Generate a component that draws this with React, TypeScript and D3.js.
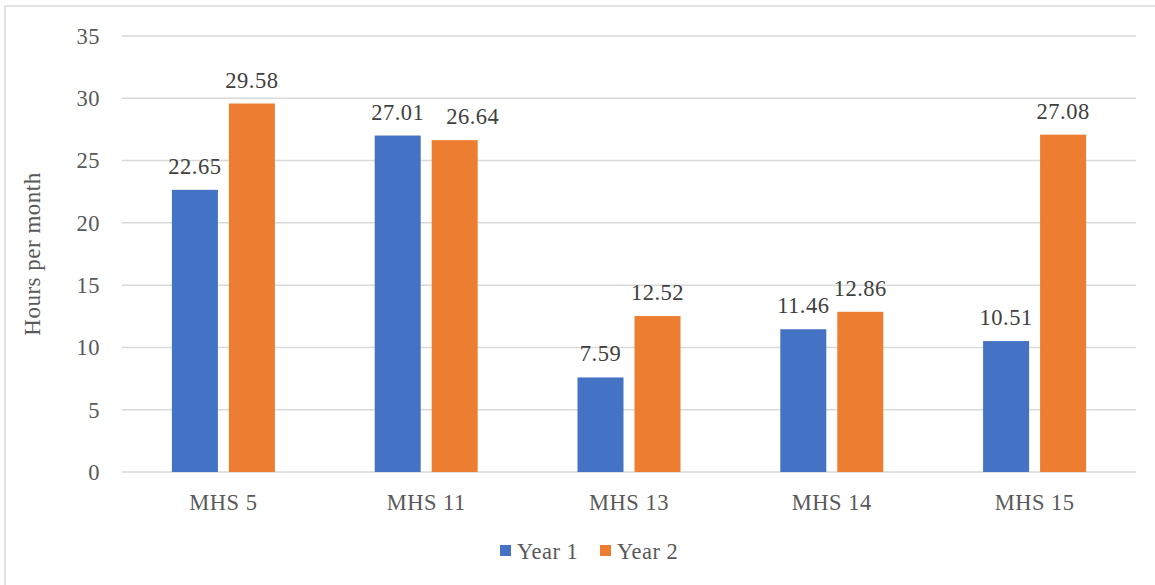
import React from "react";
import * as d3 from "d3";

const categories = ["MHS 5", "MHS 11", "MHS 13", "MHS 14", "MHS 15"];
const year1 = [22.65, 27.01, 7.59, 11.46, 10.51];
const year2 = [29.58, 26.64, 12.52, 12.86, 27.08];
const seriesNames = ["Year 1", "Year 2"];
const seriesColors = ["#4472C4", "#ED7D31"];
const yTicks = [0, 5, 10, 15, 20, 25, 30, 35];

const W = 1155;
const H = 585;
const plot = { left: 122, right: 1136, top: 36, bottom: 472 };
const font = "Liberation Serif, Tinos, Times New Roman, DejaVu Serif, serif";
const textStyle = { fontFamily: font, letterSpacing: "0.5px" };

export default function App() {
  const x = d3.scaleBand().domain(categories).range([plot.left, plot.right]);
  const y = d3.scaleLinear().domain([0, 35]).range([plot.bottom, plot.top]);
  const barW = 46;
  const gap = 11;
  const series = [year1, year2];

  return (
    <svg
      width={W}
      height={H}
      style={{ position: "absolute", left: 0, top: 0, fontFamily: font }}
      xmlns="http://www.w3.org/2000/svg"
    >
      <rect x={0} y={0} width={W} height={H} fill="#fff" />
      <rect x={5} y={6} width={W + 10} height={H + 10} fill="none" stroke="#d9d9d9" strokeWidth={1.5} />
      {yTicks.map((t) => (
        <g key={t}>
          <line x1={plot.left} x2={plot.right} y1={y(t)} y2={y(t)} stroke="#d9d9d9" strokeWidth={1.5} />
          <text
            x={plot.left - 22}
            y={y(t)}
            dy="0.35em"
            textAnchor="end"
            style={textStyle}
            fontSize={22.5}
            fill="#595959"
          >
            {t}
          </text>
        </g>
      ))}
      {categories.map((c, i) => {
        const cx = (x(c) as number) + x.bandwidth() / 2;
        // when both value labels sit at nearly the same height, nudge the second one right so they don't collide
        const crowded = Math.abs(y(year1[i]) - y(year2[i])) < 10;
        return (
          <g key={c}>
            {series.map((vals, s) => {
              const bx = s === 0 ? cx - gap / 2 - barW : cx + gap / 2;
              const v = vals[i];
              const nudge = crowded && s === 1 ? 18 : 0;
              return (
                <g key={s}>
                  <rect x={bx} y={y(v)} width={barW} height={y(0) - y(v)} fill={seriesColors[s]} />
                  <text
                    x={bx + barW / 2 + nudge}
                    y={y(v) - 16}
                    textAnchor="middle"
                    style={textStyle}
                    fontSize={22.5}
                    fill="#404040"
                  >
                    {v.toFixed(2)}
                  </text>
                </g>
              );
            })}
            <text
              x={cx}
              y={502}
              dy="0.35em"
              textAnchor="middle"
              style={textStyle}
              fontSize={22.5}
              fill="#595959"
            >
              {c}
            </text>
          </g>
        );
      })}
      <text
        transform={`translate(32, ${(plot.top + plot.bottom) / 2}) rotate(-90)`}
        textAnchor="middle"
        dy="0.35em"
        style={textStyle}
        fontSize={23}
        fill="#595959"
      >
        Hours per month
      </text>
      {seriesNames.map((n, s) => (
        <g key={n} transform={`translate(${500 + s * 100}, 551)`}>
          <rect x={0} y={-6} width={11} height={11} fill={seriesColors[s]} />
          <text x={17} y={0} dy="0.35em" style={textStyle} fontSize={22.5} fill="#595959">
            {n}
          </text>
        </g>
      ))}
    </svg>
  );
}
